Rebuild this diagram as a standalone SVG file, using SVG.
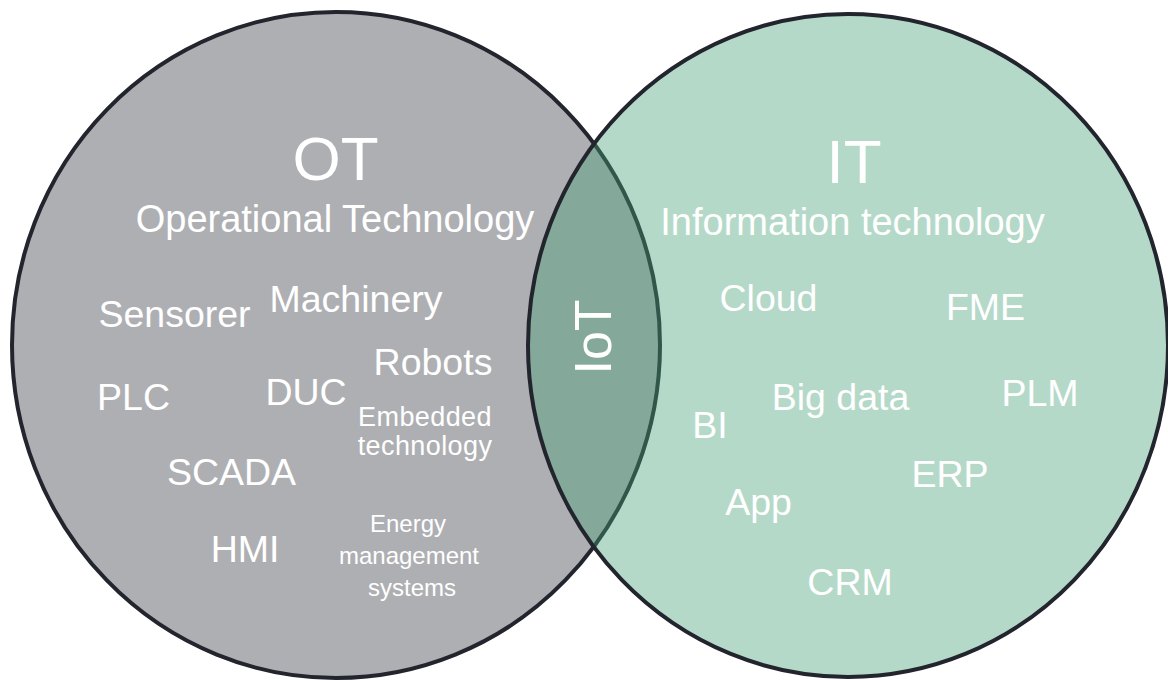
<svg xmlns="http://www.w3.org/2000/svg" width="1168" height="680" viewBox="0 0 1168 680">
  <style>
    .circle { stroke: #23252e; stroke-width: 4; }
    .ot { fill: #aeafb3; }
    .it { fill: rgb(70,160,117); fill-opacity: 0.4; }
    text { fill: #ffffff; font-family: "Liberation Sans", Arial, sans-serif; text-anchor: middle; }
    .title { font-size: 62px; }
    .sub { font-size: 38px; }
    .term { font-size: 37.5px; }
    .small { font-size: 27px; letter-spacing: 0.4px; }
    .tiny { font-size: 24px; }
  </style>
  <rect width="1168" height="680" fill="#ffffff"/>
  <g id="ot-circle">
    <ellipse class="circle ot" cx="336" cy="345" rx="324" ry="333"/>
  </g>
  <g id="it-circle">
    <ellipse class="circle it" cx="848" cy="345.5" rx="320" ry="331.5"/>
  </g>
  <g id="ot-labels">
    <g id="ot-title"><text class="title" x="335.5" y="180">OT</text></g>
    <g id="ot-subtitle"><text class="sub" x="335" y="232">Operational Technology</text></g>
    <g id="sensorer"><text class="term" x="174.5" y="327">Sensorer</text></g>
    <g id="machinery"><text class="term" x="356" y="312">Machinery</text></g>
    <g id="robots"><text class="term" x="433" y="375">Robots</text></g>
    <g id="plc"><text class="term" x="133.5" y="410">PLC</text></g>
    <g id="duc"><text class="term" x="306" y="405">DUC</text></g>
    <g id="embedded"><text class="small" x="425" y="426">Embedded</text><text class="small" x="425" y="455">technology</text></g>
    <g id="scada"><text class="term" x="231.5" y="485">SCADA</text></g>
    <g id="hmi"><text class="term" x="245" y="562">HMI</text></g>
    <g id="energy"><text class="tiny" x="408" y="532">Energy</text><text class="tiny" x="409" y="564">management</text><text class="tiny" x="412" y="596">systems</text></g>
  </g>
  <g id="iot">
    <text x="0" y="0" font-size="52" transform="translate(611,337) rotate(-90)">IoT</text>
  </g>
  <g id="it-labels">
    <g id="it-title"><text class="title" x="854" y="183">IT</text></g>
    <g id="it-subtitle"><text class="sub" x="852.5" y="235">Information technology</text></g>
    <g id="cloud"><text class="term" x="768.5" y="311">Cloud</text></g>
    <g id="fme"><text class="term" x="985.5" y="320">FME</text></g>
    <g id="bigdata"><text class="term" x="840.5" y="410">Big data</text></g>
    <g id="plm"><text class="term" x="1040" y="406">PLM</text></g>
    <g id="bi"><text class="term" x="710" y="438">BI</text></g>
    <g id="erp"><text class="term" x="950" y="487">ERP</text></g>
    <g id="app"><text class="term" x="758.5" y="515">App</text></g>
    <g id="crm"><text class="term" x="850" y="595">CRM</text></g>
  </g>
</svg>
